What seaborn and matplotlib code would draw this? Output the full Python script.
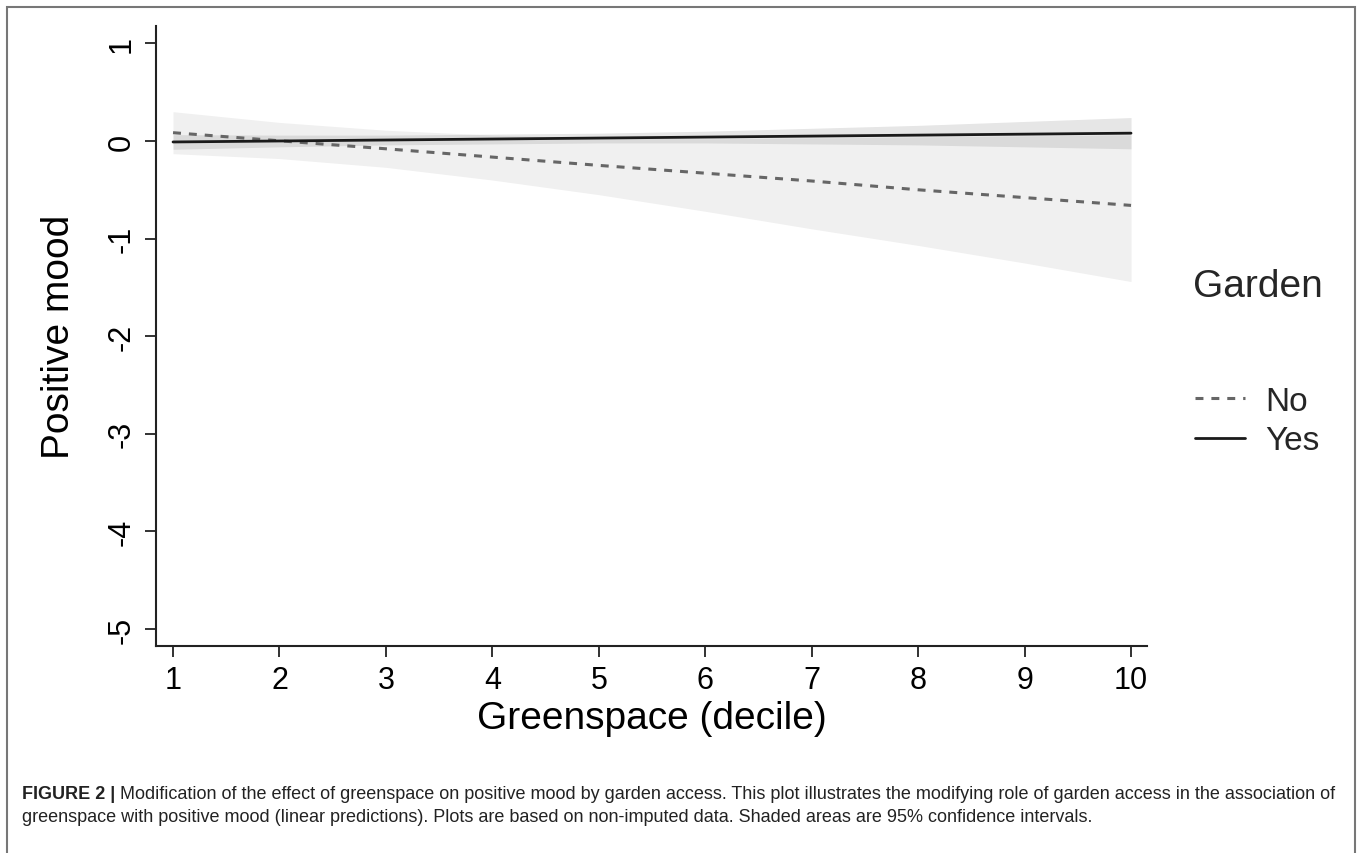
import matplotlib
matplotlib.use('Agg')
from matplotlib import pyplot as plt
from matplotlib.patches import Rectangle
from matplotlib.lines import Line2D
import pandas as pd
import seaborn as sns

# linear predictions by greenspace decile
deciles = [1, 2, 3, 4, 5, 6, 7, 8, 9, 10]
no_pred = [0.085, 0.002, -0.08, -0.165, -0.25, -0.33, -0.41, -0.50, -0.58, -0.66]
no_lo = [-0.13, -0.18, -0.27, -0.40, -0.55, -0.72, -0.90, -1.07, -1.25, -1.44]
no_hi = [0.30, 0.19, 0.11, 0.06, 0.03, 0.02, 0.03, 0.04, 0.05, 0.06]
yes_pred = [-0.01, 0.0, 0.01, 0.02, 0.03, 0.04, 0.05, 0.06, 0.07, 0.08]
yes_lo = [-0.085, -0.06, -0.04, -0.03, -0.02, -0.02, -0.03, -0.04, -0.06, -0.08]
yes_hi = [0.065, 0.06, 0.06, 0.07, 0.08, 0.10, 0.13, 0.16, 0.20, 0.24]

y_ticks = [1, 0, -1, -2, -3, -4, -5]

caption_bold = 'FIGURE 2 |'
caption_1 = ('Modification of the effect of greenspace on positive mood by garden access. '
             'This plot illustrates the modifying role of garden access in the association of')
caption_2 = ('greenspace with positive mood (linear predictions). Plots are based on non-imputed data. '
             'Shaded areas are 95% confidence intervals.')

df = pd.DataFrame({
    'decile': deciles + deciles,
    'mood': no_pred + yes_pred,
    'Garden': ['No'] * len(deciles) + ['Yes'] * len(deciles),
})

sns.set_style('white')
plt.rcParams['font.family'] = ['Liberation Sans', 'DejaVu Sans']

fig = plt.figure(figsize=(13.57, 8.54), dpi=100)
ax = fig.add_axes([156 / 1357, 1 - 647 / 854, (1147 - 156) / 1357, (647 - 27) / 854])

ax.fill_between(deciles, no_lo, no_hi, color='#f0f0f0', linewidth=0, zorder=1)
ax.fill_between(deciles, yes_lo, yes_hi, color=(130 / 255, 130 / 255, 130 / 255), alpha=0.2,
                linewidth=0, zorder=2)

sns.lineplot(data=df, x='decile', y='mood', hue='Garden', style='Garden',
             palette={'No': '#666666', 'Yes': '#1a1a1a'},
             dashes={'No': (2.6, 2.6), 'Yes': ''}, linewidth=2.2, legend=False, ax=ax, zorder=3)
for ln in ax.get_lines():
    if ln.get_linestyle() == '-':
        ln.set_linewidth(2.0)

ax.set_xlim(0.84, 10.15)
ax.set_ylim(-5.174, 1.178)
ax.set_xticks(deciles)
ax.set_yticks(y_ticks)
ax.set_yticklabels([str(t) for t in y_ticks], rotation=90, va='center')
ax.tick_params(axis='both', direction='out', length=8, width=1.3, color='#222222',
               labelsize=22, labelcolor='black', bottom=True, left=True)
ax.tick_params(axis='x', pad=6)
ax.tick_params(axis='y', pad=6)
for side in ['top', 'right']:
    ax.spines[side].set_visible(False)
for side in ['left', 'bottom']:
    ax.spines[side].set_color('#222222')
    ax.spines[side].set_linewidth(1.5)

ax.set_xlabel('Greenspace (decile)', fontsize=28, labelpad=3, color='black')
ax.set_ylabel('Positive mood', fontsize=28, labelpad=21, color='black')

# legend
fig.text(1193 / 1357, 1 - 287 / 854, 'Garden', fontsize=28, va='center', ha='left')
handles = [Line2D([], [], color='#666666', linestyle=(0, (2.6, 2.6)), linewidth=2.2),
           Line2D([], [], color='#1a1a1a', linewidth=2.0)]
leg = fig.legend(handles, ['No', 'Yes'], loc='upper left', bbox_to_anchor=(1165 / 1357, 1 - 357 / 854),
                 frameon=False, fontsize=24, handlelength=1.5, handletextpad=0.6, labelspacing=0.25)

# figure frame
fig.patches.append(Rectangle((7 / 1357, -0.02), (1355 - 7) / 1357, 1.02 - 8 / 854,
                             transform=fig.transFigure, fill=False, edgecolor='#777777', linewidth=1.5))

# caption
renderer = fig.canvas.get_renderer()
t_bold = fig.text(22 / 1357, 1 - 795 / 854, caption_bold, fontsize=13, fontweight='bold',
                  va='center', ha='left', color='#222222')
bb = t_bold.get_window_extent(renderer=renderer)
fig.text((bb.x1 + 5) / 1357, 1 - 795 / 854, caption_1, fontsize=13, va='center', ha='left',
         color='#222222')
fig.text(22 / 1357, 1 - 818 / 854, caption_2, fontsize=13, va='center', ha='left', color='#222222')

fig.savefig('out.png', dpi=100)
